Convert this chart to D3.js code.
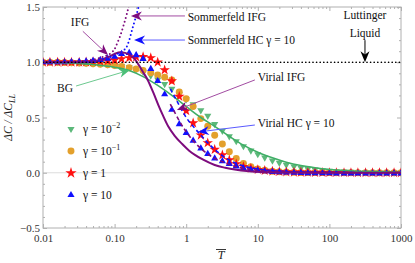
<!DOCTYPE html>
<html>
<head>
<meta charset="utf-8">
<script src="https://cdn.jsdelivr.net/npm/d3@7"></script>
<style>
  body { margin: 0; background: #fff; }
  text { font-family: "Liberation Serif", "DejaVu Serif", serif; }
</style>
</head>
<body>
<svg id="chart" width="415" height="263"></svg>
<script>
// shared temperature grid for the four gamma data sets
const temps = [0.01, 0.0125, 0.016, 0.02, 0.025, 0.032, 0.04, 0.05, 0.063, 0.08,
  0.1, 0.125, 0.16, 0.2, 0.25, 0.32, 0.4, 0.5, 0.63, 0.8,
  1, 1.25, 1.6, 2, 2.5, 3.2, 4, 5, 6.3, 8,
  10, 12.5, 16, 20, 25, 32, 40, 50, 63, 80,
  100, 125, 160, 200, 250, 320, 400, 500, 630, 800, 1000];

// gamma = 1e-2 (green down triangles)
const gamma001 = [1.0, 1.0, 1.0, 1.0, 0.998, 0.996, 0.993, 0.99, 0.986, 0.98,
  0.975, 0.966, 0.955, 0.937, 0.912, 0.88, 0.843, 0.803, 0.76, 0.712,
  0.665, 0.62, 0.565, 0.515, 0.44, 0.38, 0.33, 0.285, 0.24, 0.2,
  0.168, 0.137, 0.11, 0.09, 0.072, 0.057, 0.045, 0.036, 0.028, 0.022,
  0.018, 0.014, 0.011, 0.009, 0.007, 0.005, 0.004, 0.003, 0.003, 0.002, 0.002];
// gamma = 1e-1 (orange circles)
const gamma01 = [1.0, 1.0, 1.0, 0.998, 0.996, 0.993, 0.99, 0.987, 0.983, 0.977,
  0.97, 0.962, 0.95, 0.94, 0.925, 0.905, 0.885, 0.865, 0.84, 0.73,
  0.67, 0.6, 0.49, 0.42, 0.34, 0.26, 0.19, 0.13, 0.085, 0.055,
  0.035, 0.022, 0.014, 0.009, 0.006, 0.004, 0.003, 0.002, 0.001, 0.001,
  0.001, 0, 0, 0, 0, 0, 0, 0, 0, 0, 0];
// gamma = 1 (red stars)
const gamma1 = [1.0, 1.0, 1.0, 1.0, 1.0, 1.0, 1.002, 1.005, 1.008, 1.013,
  1.02, 1.03, 1.04, 1.048, 1.05, 1.04, 1.0, 0.93, 0.83, 0.69,
  0.56, 0.45, 0.34, 0.27, 0.21, 0.16, 0.115, 0.08, 0.055, 0.04,
  0.028, 0.02, 0.014, 0.01, 0.007, 0.005, 0.004, 0.003, 0.002, 0.002,
  0.001, 0.001, 0.001, 0.001, 0, 0, 0, 0, 0, 0, 0];
// gamma = 10 (blue up triangles)
const gamma10 = [1.0, 1.0, 1.0, 1.0, 1.002, 1.004, 1.007, 1.012, 1.02, 1.033,
  1.05, 1.075, 1.085, 1.065, 1.03, 0.94, 0.83, 0.71, 0.57, 0.44,
  0.36, 0.29, 0.22, 0.17, 0.13, 0.105, 0.08, 0.058, 0.04, 0.028,
  0.02, 0.013, 0.008, 0.005, 0.002, 0, -0.002, -0.003, -0.004, -0.005,
  -0.005, -0.006, -0.006, -0.006, -0.006, -0.006, -0.006, -0.006, -0.006, -0.006, -0.006];

// ideal Fermi gas, exact
const ifgT = [0.01, 0.02, 0.03, 0.04, 0.05, 0.063, 0.08, 0.1, 0.12, 0.14, 0.16, 0.19, 0.22, 0.25, 0.29,
  0.35, 0.41, 0.48, 0.56, 0.7, 0.88, 1.1, 1.34, 1.7, 2.5, 3.5, 5, 7, 10, 20, 50, 100, 1000];
const ifgVal = [1.0, 1.0, 1.0, 1.003, 1.008, 1.02, 1.045, 1.075, 1.09, 1.085, 1.07, 1.03, 0.97, 0.91, 0.84,
  0.72, 0.61, 0.51, 0.42, 0.33, 0.26, 0.2, 0.16, 0.12, 0.07, 0.045, 0.027, 0.016, 0.009, 0.003, 0.001, 0, 0];

// Boltzmann gas
const bgT = [0.01, 0.02, 0.05, 0.1, 0.16, 0.25, 0.4, 0.63, 1, 1.6, 2.5, 4, 6.3, 10, 16, 25, 40, 63, 100, 160, 250, 400, 630, 1000];
const bgVal = [1.0, 0.995, 0.98, 0.955, 0.925, 0.87, 0.79, 0.70, 0.60, 0.50, 0.42, 0.33, 0.25, 0.185, 0.135, 0.095,
  0.065, 0.045, 0.03, 0.02, 0.014, 0.01, 0.007, 0.005];

// Sommerfeld expansions
const somIfgT = [0.01, 0.02, 0.03, 0.04, 0.05, 0.06, 0.07, 0.08, 0.09, 0.1, 0.11, 0.12, 0.13, 0.14, 0.15, 0.16];
const somIfgVal = [1.0, 1.003, 1.008, 1.015, 1.025, 1.035, 1.05, 1.065, 1.085, 1.12, 1.18, 1.24, 1.31, 1.38, 1.45, 1.53];
const somHcT = [0.01, 0.03, 0.05, 0.07, 0.09, 0.11, 0.13, 0.15, 0.16, 0.17, 0.18, 0.19, 0.2, 0.21, 0.22];
const somHcVal = [1.0, 1.005, 1.015, 1.03, 1.05, 1.075, 1.1, 1.15, 1.2, 1.26, 1.32, 1.37, 1.42, 1.47, 1.52];

// virial (high T) expansions
const virT = [0.6, 0.7, 0.8, 1, 1.25, 1.6, 2, 2.5, 3.2, 4, 5, 6.3, 8, 10, 16, 25, 40, 100, 1000];
const virIfgVal = [0.62, 0.54, 0.47, 0.37, 0.29, 0.22, 0.17, 0.13, 0.1, 0.075, 0.055, 0.04, 0.03, 0.022, 0.012, 0.007, 0.004, 0.001, 0];
const virHcVal = [0.76, 0.68, 0.61, 0.5, 0.42, 0.34, 0.27, 0.21, 0.155, 0.115, 0.085, 0.062, 0.045, 0.033, 0.018, 0.01, 0.006, 0.002, 0];

// axis ticks
const xTicks = [0.01, 0.1, 1, 10, 100, 1000];
const xTickLabels = ['0.01', '0.10', '1', '10', '100', '1000'];
const yTicks = [-0.5, 0, 0.5, 1, 1.5];
const yTickLabels = ['\u22120.5', '0.0', '0.5', '1.0', '1.5'];

const W = 415, H = 263;
const margin = {left: 43, right: 14, top: 7, bottom: 35};
const svg = d3.select('#chart');

const x = d3.scaleLog().domain([0.01, 1000]).range([margin.left, W - margin.right]);
const y = d3.scaleLinear().domain([-0.5, 1.5]).range([H - margin.bottom, margin.top]);

const frameColor = '#b0b0b0';
const green = '#5cb87a', orange = '#e3a02c', red = '#ff1010', blue = '#1010ff', purple = '#7d0b7d';

svg.append('clipPath').attr('id', 'plot-clip')
  .append('rect')
  .attr('x', margin.left).attr('y', margin.top)
  .attr('width', W - margin.left - margin.right)
  .attr('height', H - margin.top - margin.bottom);

// zero grid line
svg.append('line')
  .attr('x1', x(0.01)).attr('x2', x(1000))
  .attr('y1', y(0)).attr('y2', y(0))
  .attr('stroke', '#dcdcdc').attr('stroke-width', 1);

//minor ticks
const xMinor = [];
[0.01, 0.1, 1, 10, 100].forEach(d => { for (let k = 2; k < 10; k++) xMinor.push(d * k); });
const yMinor = d3.range(-5, 16).map(i => i / 10).filter(v => Math.abs(v * 2 - Math.round(v * 2)) > 1e-6);

function styleAxis(g) {
  g.select('.domain').remove();
  g.selectAll('line').attr('stroke', frameColor);
  g.selectAll('text').attr('fill', '#333').style('font-size', '11px')
    .style('font-family', '"Liberation Serif", serif');
}

svg.append('g').attr('transform', `translate(0,${y(-0.5)})`)
  .call(d3.axisBottom(x).tickValues(xTicks).tickFormat((d, i) => xTickLabels[i]).tickSize(-4).tickPadding(6))
  .call(styleAxis);
svg.append('g').attr('transform', `translate(0,${y(-0.5)})`)
  .call(d3.axisBottom(x).tickValues(xMinor).tickFormat('').tickSize(-2))
  .call(styleAxis);
svg.append('g').attr('transform', `translate(0,${y(1.5)})`)
  .call(d3.axisTop(x).tickValues(xTicks).tickFormat('').tickSize(-4))
  .call(styleAxis);
svg.append('g').attr('transform', `translate(0,${y(1.5)})`)
  .call(d3.axisTop(x).tickValues(xMinor).tickFormat('').tickSize(-2))
  .call(styleAxis);

svg.append('g').attr('transform', `translate(${x(0.01)},0)`)
  .call(d3.axisLeft(y).tickValues(yTicks).tickFormat((d, i) => yTickLabels[i]).tickSize(-4).tickPadding(3))
  .call(styleAxis);
svg.append('g').attr('transform', `translate(${x(0.01)},0)`)
  .call(d3.axisLeft(y).tickValues(yMinor).tickFormat('').tickSize(-2))
  .call(styleAxis);
svg.append('g').attr('transform', `translate(${x(1000)},0)`)
  .call(d3.axisRight(y).tickValues(yTicks).tickFormat('').tickSize(-4))
  .call(styleAxis);
svg.append('g').attr('transform', `translate(${x(1000)},0)`)
  .call(d3.axisRight(y).tickValues(yMinor).tickFormat('').tickSize(-2))
  .call(styleAxis);

// frame
svg.append('rect')
  .attr('x', x(0.01)).attr('y', y(1.5))
  .attr('width', x(1000) - x(0.01)).attr('height', y(-0.5) - y(1.5))
  .attr('fill', 'none').attr('stroke', frameColor).attr('stroke-width', 1);

const plot = svg.append('g').attr('clip-path', 'url(#plot-clip)');

const line = d3.line().x(d => x(d[0])).y(d => y(d[1])).curve(d3.curveMonotoneX);
const zip = (ts, vs) => ts.map((t, i) => [t, vs[i]]);

// markers
const markerSets = [
  {vals: gamma001, color: green, sym: d3.symbolTriangle, size: 22, rot: 180},
  {vals: gamma01, color: orange, sym: d3.symbolCircle, size: 38, rot: 0},
  {vals: gamma1, color: red, sym: d3.symbolStar, size: 34, rot: 0},
  {vals: gamma10, color: blue, sym: d3.symbolTriangle, size: 22, rot: 0}
];

markerSets.forEach(s => {
  plot.append('g').selectAll('path')
    .data(zip(temps, s.vals))
    .enter()
    .append('path')
    .attr('d', d3.symbol().type(s.sym).size(s.size))
    .attr('transform', d => `translate(${x(d[0])},${y(d[1])}) rotate(${s.rot})`)
    .attr('fill', s.color);
});

// curves
plot.append('path').datum(zip(bgT, bgVal)).attr('d', line)
  .attr('fill', 'none').attr('stroke', '#3fae66').attr('stroke-width', 1.6);
plot.append('path').datum(zip(virT, virHcVal)).attr('d', line)
  .attr('fill', 'none').attr('stroke', blue).attr('stroke-width', 1.6).attr('stroke-dasharray', '4,3');
plot.append('path').datum(zip(virT, virIfgVal)).attr('d', line)
  .attr('fill', 'none').attr('stroke', purple).attr('stroke-width', 1.6).attr('stroke-dasharray', '4,3');
plot.append('path').datum(zip(ifgT, ifgVal)).attr('d', line)
  .attr('fill', 'none').attr('stroke', purple).attr('stroke-width', 2);
plot.append('path').datum(zip(somHcT, somHcVal)).attr('d', line)
  .attr('fill', 'none').attr('stroke', blue).attr('stroke-width', 2)
  .attr('stroke-dasharray', '0,4').attr('stroke-linecap', 'round');
plot.append('path').datum(zip(somIfgT, somIfgVal)).attr('d', line)
  .attr('fill', 'none').attr('stroke', purple).attr('stroke-width', 2)
  .attr('stroke-dasharray', '0,4').attr('stroke-linecap', 'round');

// Luttinger liquid level
plot.append('path').datum([[0.01, 1], [1000, 1]]).attr('d', line)
  .attr('fill', 'none').attr('stroke', '#000').attr('stroke-width', 1.7)
  .attr('stroke-dasharray', '0,3.6').attr('stroke-linecap', 'round');

// annotations: arrows given in data coordinates
function arrow(from, to, lineColor, headColor) {
  const x1 = x(from[0]), y1 = y(from[1]), x2 = x(to[0]), y2 = y(to[1]);
  const a = Math.atan2(y2 - y1, x2 - x1);
  const L = 11, w = 4.5;
  const pt = (u, v) => [x2 + u * Math.cos(a) - v * Math.sin(a), y2 + u * Math.sin(a) + v * Math.cos(a)];
  svg.append('line')
    .attr('x1', x1).attr('y1', y1)
    .attr('x2', pt(-L * 0.6, 0)[0]).attr('y2', pt(-L * 0.6, 0)[1])
    .attr('stroke', lineColor).attr('stroke-width', 1);
  svg.append('polygon')
    .attr('points', [pt(0, 0), pt(-L, -w), pt(-L * 0.7, 0), pt(-L, w)].map(p => p.join(',')).join(' '))
    .attr('fill', headColor);
}

function label(t, v, txt, anchor) {
  return svg.append('text')
    .attr('x', x(t)).attr('y', y(v))
    .attr('text-anchor', anchor || 'start')
    .style('font-size', '11.5px').attr('fill', '#111')
    .text(txt);
}

label(0.033, 1.33, 'IFG', 'middle');
arrow([0.036, 1.28], [0.081, 1.066], '#a24ca2', purple);

label(0.0203, 0.73, 'BG', 'middle');
arrow([0.029, 0.785], [0.164, 0.93], '#6cc98f', '#4cbf78');

label(1.05, 1.373, 'Sommerfeld IFG');
arrow([0.96, 1.419], [0.169, 1.419], '#a24ca2', purple);

label(1.05, 1.165, 'Sommerfeld HC \u03b3 = 10');
arrow([0.96, 1.201], [0.187, 1.201], '#5a5aff', blue);

label(10, 0.83, 'Virial IFG');
arrow([9.1, 0.84], [0.743, 0.568], '#a24ca2', purple);

label(10, 0.414, 'Virial HC \u03b3 = 10');
arrow([9.1, 0.432], [1.46, 0.369], '#5a5aff', blue);

label(314, 1.39, 'Luttinger', 'middle');
label(314, 1.23, 'Liquid', 'middle');
arrow([314, 1.2], [314, 1.0], '#000', '#000');

// legend
const legendRows = [
  {color: green, sym: d3.symbolTriangle, size: 22, rot: 180, base: '\u03b3 = 10', sup: '\u22122'},
  {color: orange, sym: d3.symbolCircle, size: 38, rot: 0, base: '\u03b3 = 10', sup: '\u22121'},
  {color: red, sym: d3.symbolStar, size: 40, rot: 0, base: '\u03b3 = 1', sup: ''},
  {color: blue, sym: d3.symbolTriangle, size: 22, rot: 0, base: '\u03b3 = 10', sup: ''}
];
const legend = svg.append('g').attr('transform', 'translate(71,129)');
legendRows.forEach((r, i) => {
  const row = legend.append('g').attr('transform', `translate(0,${i * 22})`);
  row.append('path')
    .attr('d', d3.symbol().type(r.sym).size(r.size))
    .attr('transform', `rotate(${r.rot})`)
    .attr('fill', r.color);
  const t = row.append('text').attr('x', 12).attr('y', 4)
    .style('font-size', '11.5px').attr('fill', '#111')
    .text(r.base);
  if (r.sup) {
    t.append('tspan').attr('dy', -5).style('font-size', '8px').text(r.sup);
  }
});

// axis titles
const yTitle = svg.append('text')
  .attr('transform', `translate(12,${(y(-0.5) + y(1.5)) / 2}) rotate(-90)`)
  .attr('text-anchor', 'middle')
  .style('font-size', '11.5px').style('font-style', 'italic').attr('fill', '#222');
yTitle.append('tspan').text('\u0394C / \u0394C');
yTitle.append('tspan').attr('dy', 3).style('font-size', '8px').text('LL');

svg.append('text')
  .attr('x', 221).attr('y', 259)
  .attr('text-anchor', 'middle')
  .style('font-size', '12px').style('font-style', 'italic').attr('fill', '#222')
  .text('T');
svg.append('line').attr('x1', 216).attr('x2', 226).attr('y1', 249.5).attr('y2', 249.5)
  .attr('stroke', '#222').attr('stroke-width', 0.9);
</script>
</body>
</html>
